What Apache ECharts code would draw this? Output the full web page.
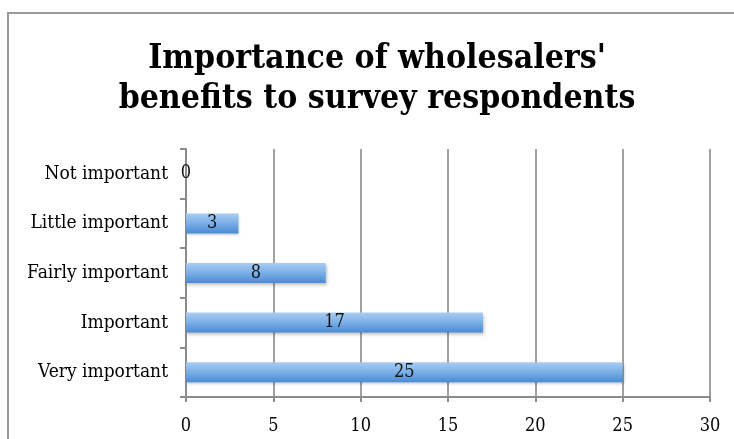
<!DOCTYPE html>
<html>
<head>
<meta charset="utf-8">
<script src="https://cdn.jsdelivr.net/npm/echarts@6/dist/echarts.min.js"></script>
<style>
    html, body { margin: 0; padding: 0; background: #fff; overflow: hidden; }
    #frame { position: absolute; left: 7px; top: 12px; width: 900px; height: 600px; border: 2px solid #9a9a9a; }
    #chart { position: absolute; left: 0; top: 0; width: 734px; height: 439px; }
</style>
</head>
<body>
<div id="frame"></div>
<div id="chart"></div>
<script>
    // survey answers, top to bottom as in the picture
    const categories = ['Not important', 'Little important', 'Fairly important', 'Important', 'Very important']
    const counts = [0, 3, 8, 17, 25]
    const xTicks = [0, 5, 10, 15, 20, 25, 30]

    const serif = '"DejaVu Serif Condensed", "DejaVu Serif", serif'

    const chart = echarts.init(document.getElementById('chart'))
    chart.setOption({
        animation: false,
        title: {
            text: "Importance of wholesalers'\nbenefits to survey respondents",
            left: 372,
            textAlign: 'center',
            top: 34,
            textStyle: {
                fontFamily: serif,
                fontWeight: 'bold',
                fontSize: 33.5,
                lineHeight: 40,
                color: '#000'
            }
        },
        grid: {left: 186, right: 24, top: 149, bottom: 42},
        xAxis: {
            type: 'value',
            min: xTicks[0],
            max: xTicks[xTicks.length - 1],
            interval: 5,
            axisLine: {show: true, lineStyle: {color: '#8c8c8c', width: 2}},
            axisTick: {show: true, length: 5, lineStyle: {color: '#8c8c8c', width: 2}},
            axisLabel: {fontFamily: serif, fontSize: 18, color: '#000', margin: 20},
            splitLine: {show: true, lineStyle: {color: '#a0a0a0', width: 2}}
        },
        yAxis: {
            type: 'category',
            inverse: true,
            data: categories,
            axisLine: {show: true, lineStyle: {color: '#8c8c8c', width: 2}},
            axisTick: {show: true, length: 6, lineStyle: {color: '#8c8c8c', width: 2}},
            axisLabel: {fontFamily: serif, fontSize: 19, color: '#000', margin: 18}
        },
        series: [{
            type: 'bar',
            data: counts,
            barWidth: 20,
            itemStyle: {
                color: new echarts.graphic.LinearGradient(0, 0, 0, 1, [
                    {offset: 0, color: '#a9cdf3'},
                    {offset: 0.5, color: '#7aaee6'},
                    {offset: 1, color: '#4a8ad6'}
                ]),
                shadowColor: 'rgba(0,0,0,0.25)',
                shadowBlur: 3,
                shadowOffsetX: 1,
                shadowOffsetY: 2
            },
            label: {
                show: true,
                position: 'inside',
                fontFamily: serif,
                fontSize: 18,
                color: '#111'
            }
        }]
    })
</script>
</body>
</html>
